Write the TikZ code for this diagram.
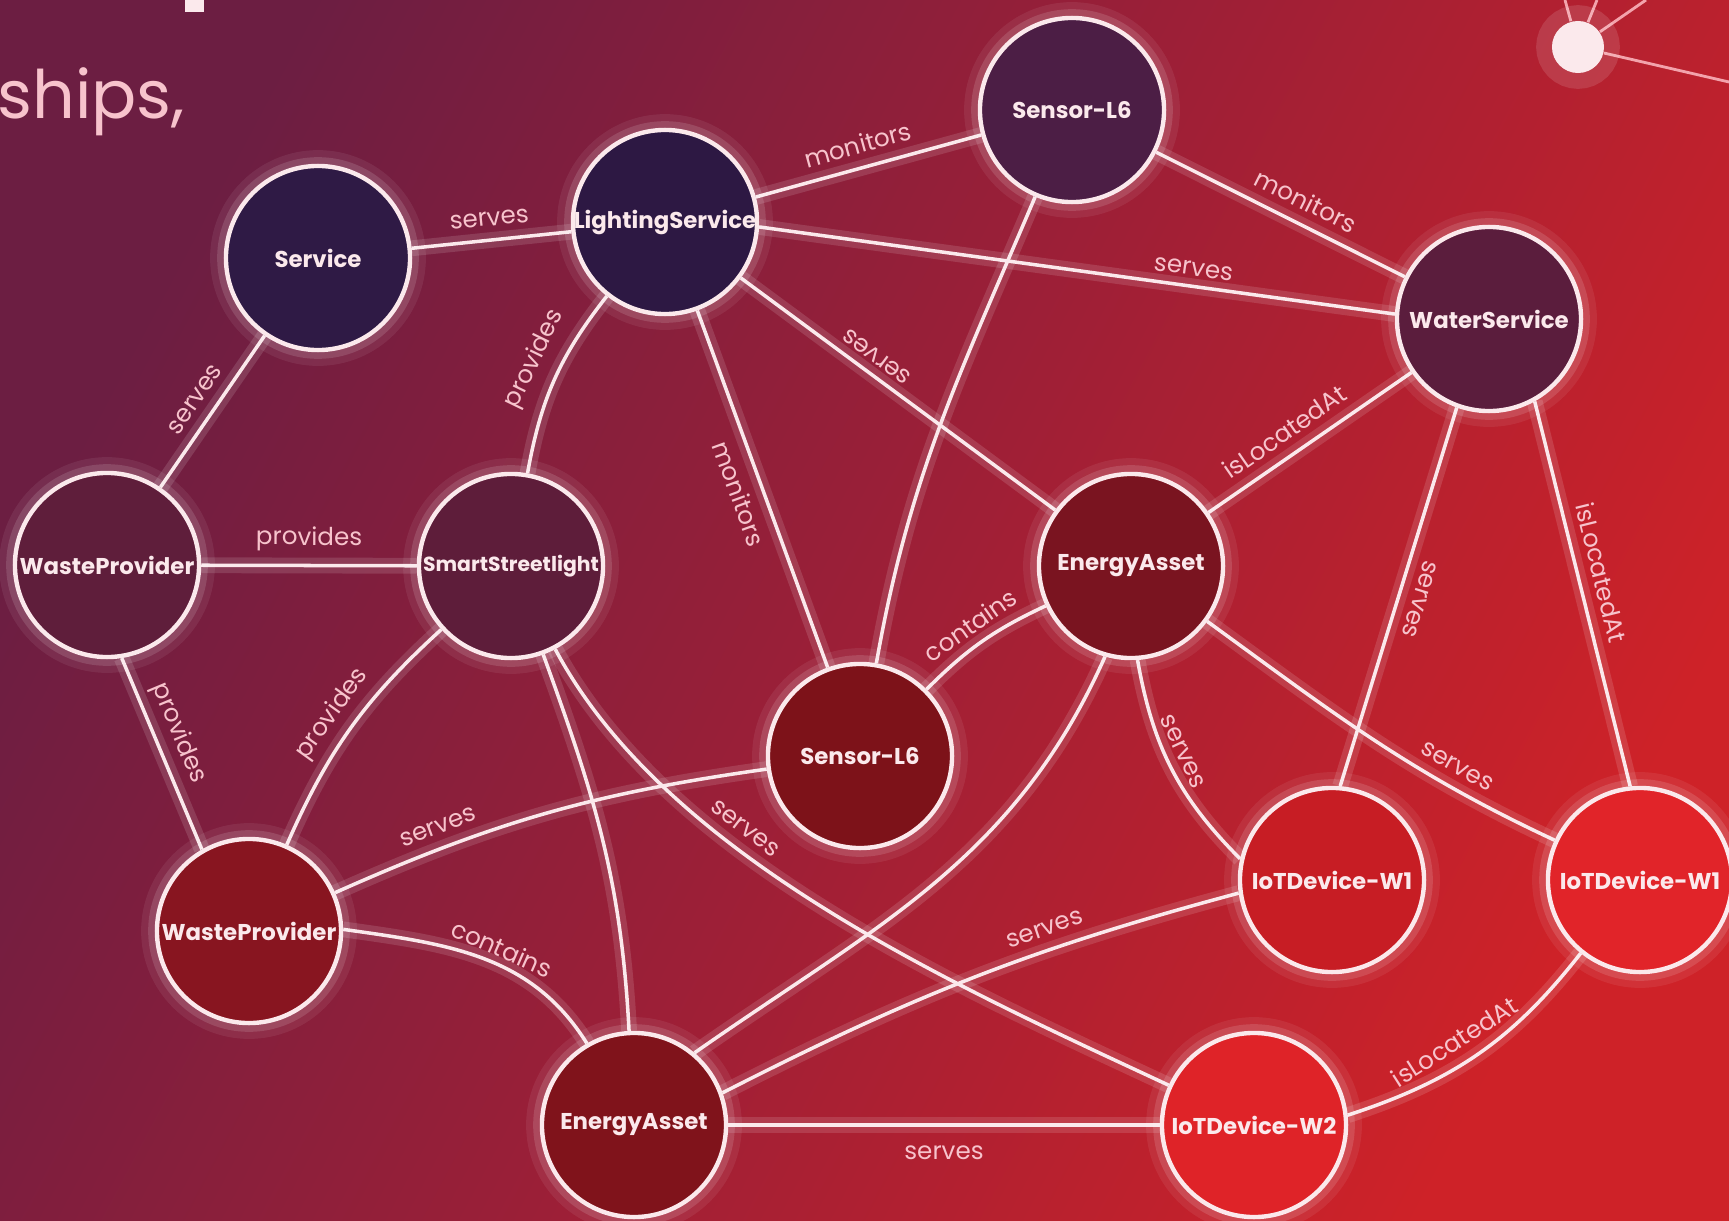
\documentclass[tikz,border=0pt]{standalone}
\usepackage{fontspec}
\setmainfont{Poppins}
\pgfdeclarelayer{bgl}
\pgfdeclarelayer{links}
\pgfsetlayers{bgl,links,main}
\definecolor{bgleft}{HTML}{6C1E42}
\definecolor{bgmid}{HTML}{9C1F37}
\definecolor{bgright}{HTML}{CE2228}
\definecolor{rim}{HTML}{FBE9EC}
\definecolor{lbltext}{HTML}{F7C3CC}
\definecolor{hubline}{HTML}{F3A3AC}
\definecolor{cService}{HTML}{2F1A45}
\definecolor{cLight}{HTML}{2D1843}
\definecolor{cSensA}{HTML}{4C1E45}
\definecolor{cWater}{HTML}{5B1D3D}
\definecolor{cWasteA}{HTML}{5F1E3B}
\definecolor{cStreet}{HTML}{5E1D3A}
\definecolor{cEnergyA}{HTML}{7A1420}
\definecolor{cSensB}{HTML}{7D1219}
\definecolor{cWasteB}{HTML}{881520}
\definecolor{cEnergyB}{HTML}{80131B}
\definecolor{cIotA}{HTML}{C71D24}
\definecolor{cIotB}{HTML}{E12429}
\definecolor{cIotC}{HTML}{DF2328}
\tikzset{
  ent/.style={circle, minimum size=1.84cm, inner sep=0pt, draw=rim, line width=1.25pt,
    text=rim, font=\fontsize{6.5}{7}\selectfont\bfseries,
    preaction={draw=white, line width=9pt, opacity=0.07},
    preaction={draw=white, line width=5pt, opacity=0.13}},
  link/.style={draw=rim, line width=1pt,
    preaction={draw=white, line width=4.5pt, opacity=0.13}},
  lbl/.style={text=lbltext, font=\fontsize{7}{8}\selectfont, inner sep=1.5pt, sloped},
  hubdot/.style={circle, fill=rim, minimum size=0.52cm, inner sep=0pt,
    preaction={draw=white, line width=9pt, opacity=0.12}},
  hubedge/.style={draw=hubline, line width=0.8pt}
}
\begin{document}
\begin{tikzpicture}[x=0.01cm,y=0.01cm]
\useasboundingbox (0,0) rectangle (1729,-1221);
\begin{pgfonlayer}{bgl}
\shade[top color=bgleft, bottom color=bgright, middle color=bgmid, shading angle=62] (0,0) rectangle (1729,-1221);
\end{pgfonlayer}
\node[anchor=base west, inner sep=0pt, text=lbltext, font=\fontsize{19}{22}\selectfont] (ships) at (-3,-118) {ships,};
\fill[rim] (185,0) rectangle (204,-12);
% hub in the corner
\node[hubdot] (hub) at (1578,-47) {};
\coordinate (h1) at (1565,0);
\coordinate (h2) at (1597,0);
\coordinate (h3) at (1646,0);
\coordinate (h4) at (1729,-82);
% entities
\node[ent, fill=cService] (service) at (318,-258) {Service};
\node[ent, fill=cLight] (lighting) at (665,-222) {LightingService};
\node[ent, fill=cSensA] (sensorA) at (1072,-110) {Sensor-L6};
\node[ent, fill=cWater] (water) at (1489,-319) {WaterService};
\node[ent, fill=cWasteA] (wasteA) at (107,-565) {WasteProvider};
\node[ent, fill=cStreet, font=\fontsize{5.8}{7}\selectfont\bfseries] (street) at (511,-566) {SmartStreetlight};
\node[ent, fill=cEnergyA] (energyA) at (1131,-566) {EnergyAsset};
\node[ent, fill=cSensB] (sensorB) at (860,-756) {Sensor-L6};
\node[ent, fill=cWasteB] (wasteB) at (249,-931) {WasteProvider};
\node[ent, fill=cEnergyB] (energyB) at (634,-1125) {EnergyAsset};
\node[ent, fill=cIotA] (iotA) at (1332,-880) {IoTDevice-W1};
\node[ent, fill=cIotB] (iotB) at (1640,-880) {IoTDevice-W1};
\node[ent, fill=cIotC] (iotC) at (1254,-1125) {IoTDevice-W2};
\begin{pgfonlayer}{links}
\foreach \e in {h1,h2,h3,h4}
  \draw[hubedge] (hub) -- (\e);
\draw[link] (service) -- node[lbl, above=2pt] {serves} (lighting);
\draw[link] (wasteA) -- node[lbl, above=2pt, pos=0.5] {serves} (service);
\draw[link] (lighting) -- node[lbl, above=2pt, pos=0.48] {monitors} (sensorA);
\draw[link] (lighting.-3) -- node[lbl, above=1pt, pos=0.68] {serves} (water.177);
\draw[link] (street) to[bend left=14] node[lbl, above=2pt, pos=0.55] {provides} (lighting);
\draw[link] (lighting) -- node[lbl, below=2pt, pos=0.49] {monitors} (sensorB);
\draw[link] (energyA) -- node[lbl, allow upside down, below=1pt, pos=0.6] {serves} (lighting);
\draw[link] (sensorA) -- node[lbl, above=2pt, pos=0.56] {monitors} (water);
\draw[link] (sensorA) to[out=-113, in=80] (sensorB);
\draw[link] (energyA) -- node[lbl, above=2pt, pos=0.44] {isLocatedAt} (water);
\draw[link] (water.-110) -- node[lbl, allow upside down, above=2pt, pos=0.49] {serves} (iotA.85);
\draw[link] (water.-61) -- node[lbl, above=2pt, pos=0.46] {isLocatedAt} (iotB.96);
\draw[link] (wasteA) -- node[lbl, above=2pt] {provides} (street);
\draw[link] (wasteA.-81) -- node[lbl, above=1pt, pos=0.44] {provides} (wasteB.120);
\draw[link] (wasteB) to[bend left=12] node[lbl, above=1pt, pos=0.5] {provides} (street);
\draw[link] (street) to[out=-62, in=155, looseness=0.8] node[lbl, above=2pt, pos=0.36] {serves} (iotC);
\draw[link] (street) to[out=-70, in=93] (energyB);
\draw[link] (sensorB) to[bend left=10] node[lbl, above=1pt] {contains} (energyA);
\draw[link] (wasteB) to[out=24, in=188] node[lbl, above=2pt, pos=0.25] {serves} (sensorB);
\draw[link] (energyA.-86) to[out=-80, in=135] node[lbl, above=1pt, pos=0.45] {serves} (iotA.167);
\draw[link] (energyA) to[out=-36, in=155] node[lbl, above=2pt, pos=0.72] {serves} (iotB);
\draw[link] (energyA.-106) to[out=-114, in=35] (energyB.50);
\draw[link] (wasteB.1) to[out=-8, in=122] node[lbl, above=0pt, pos=0.55] {contains} (energyB.120);
\draw[link] (energyB.20) to[out=27, in=195] node[lbl, above=2pt, pos=0.66] {serves} (iotA.188);
\draw[link] (energyB) -- node[lbl, below=4pt] {serves} (iotC);
\draw[link] (iotC.6) to[out=18, in=232] node[lbl, above=2pt, pos=0.45] {isLocatedAt} (iotB.231);
\end{pgfonlayer}
\end{tikzpicture}
\end{document}
